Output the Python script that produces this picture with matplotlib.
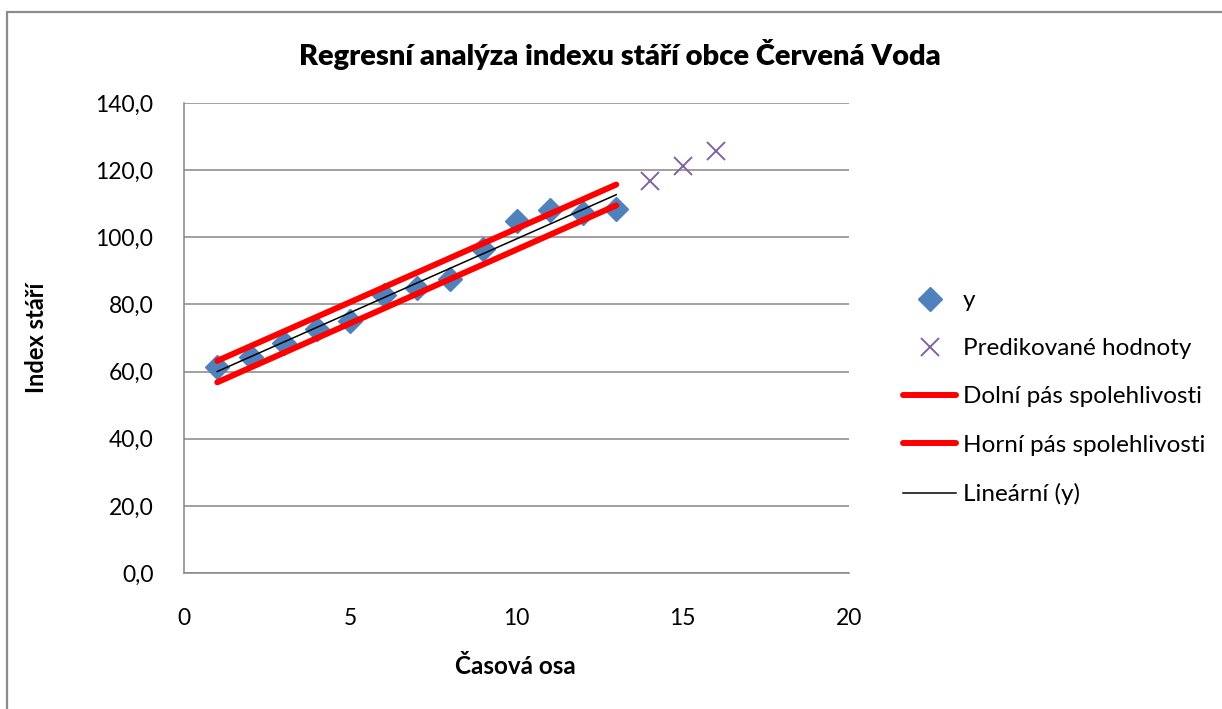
import numpy as np
import matplotlib.pyplot as plt
from matplotlib.patches import Rectangle
from matplotlib.ticker import FuncFormatter

# ---- DATA ----
years = [1, 2, 3, 4, 5, 6, 7, 8, 9, 10, 11, 12, 13]
index_y = [61.5, 64.3, 68.5, 72.6, 75.2, 82.9, 84.9, 87.6, 96.5, 104.8, 108.0, 107.3, 108.5]

pred_x = [14, 15, 16]
pred_y = [116.7, 121.2, 125.7]

band_x = [1, 13]
lower_band = [56.8, 109.5]
upper_band = [63.2, 115.7]

# ---- STYLE ----
plt.rcParams['font.family'] = ['Lato', 'DejaVu Sans']
GRID = '#868686'
BLUE = '#4F81BD'
PURPLE = '#8064A2'

W, H = 1222, 709
fig = plt.figure(figsize=(W / 100, H / 100), dpi=100)
ax = fig.add_axes([184 / W, 1 - 573 / H, (849 - 184) / W, (573 - 103) / H])

# outer chart border (only left and top visible)
fig.patches.append(Rectangle((7 / W, -0.05), 1.1, 1 - 12 / H + 0.05,
                             transform=fig.transFigure, fill=False,
                             edgecolor='#8C8C8C', linewidth=1.6))

# ---- PLOT ----
ax.plot(years, index_y, linestyle='none', marker='D', ms=12,
        color=BLUE, label='y', zorder=3)
ax.plot(pred_x, pred_y, linestyle='none', marker='x', ms=13, mew=1.4,
        color=PURPLE, label='Predikované hodnoty', zorder=3)
ax.plot(band_x, lower_band, color='#FF0000', lw=4.3, solid_capstyle='round',
        label='Dolní pás spolehlivosti', zorder=4)
ax.plot(band_x, upper_band, color='#FF0000', lw=4.3, solid_capstyle='round',
        label='Horní pás spolehlivosti', zorder=4)

# linear trendline of y
k, q = np.polyfit(years, index_y, 1)
tx = np.array([years[0], years[-1]])
ax.plot(tx, k * tx + q, color='black', lw=1.1, label='Lineární (y)', zorder=5)

# ---- AXES ----
ax.set_xlim(0, 20)
ax.set_ylim(0, 140)
ax.set_xticks(range(0, 21, 5))
ax.set_yticks(range(0, 141, 20))
ax.yaxis.set_major_formatter(FuncFormatter(lambda v, p: f"{v:.1f}".replace('.', ',')))
ax.tick_params(length=0, labelsize=16.5, colors='black')
ax.tick_params(axis='y', pad=22)
ax.tick_params(axis='x', pad=25)
ax.grid(axis='y', color=GRID, lw=1.1)
ax.set_axisbelow(True)
for s in ['top', 'right']:
    ax.spines[s].set_visible(False)
for s in ['left', 'bottom']:
    ax.spines[s].set_color(GRID)
    ax.spines[s].set_linewidth(1.1)

# ---- LABELS ----
fig.text(620 / W, 1 - 55 / H, 'Regresní analýza indexu stáří obce Červená Voda',
         ha='center', va='center', fontsize=21, fontweight='heavy')
fig.text(515 / W, 1 - 667 / H, 'Časová osa', ha='center', va='center',
         fontsize=17.5, fontweight='bold')
fig.text(37 / W, 1 - 338 / H, 'Index stáří', ha='center', va='center',
         rotation=90, fontsize=17, fontweight='bold')

ax.legend(loc='upper left', bbox_to_anchor=(903 / W, 1 - 290 / H),
          bbox_transform=fig.transFigure, frameon=False, fontsize=17.5,
          borderpad=0, borderaxespad=0, handlelength=2.2, handletextpad=0.25,
          labelspacing=1.12)

fig.savefig('out.png', dpi=100)
